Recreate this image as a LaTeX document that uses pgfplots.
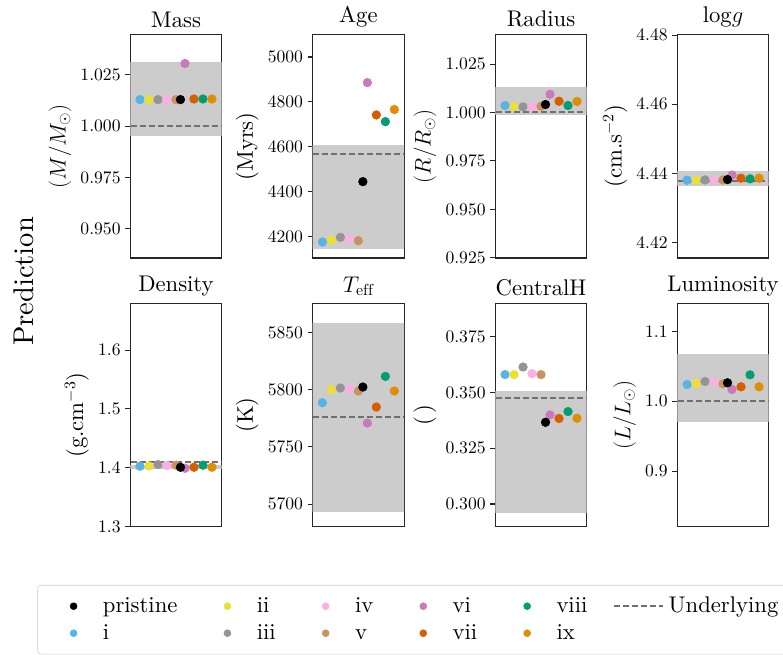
\RequirePackage{fix-cm}
\documentclass[border=0pt]{standalone}
\usepackage{fontspec}
\setmainfont{lmroman10-regular.otf}[ItalicFont=lmroman10-italic.otf, BoldFont=lmroman10-bold.otf]
\usepackage{pgfplots}
\usepackage{pgfplotstable}
\pgfplotsset{compat=1.18}

% palette
\definecolor{cI}{HTML}{56B4E9}
\definecolor{cII}{HTML}{ECE133}
\definecolor{cIII}{HTML}{949494}
\definecolor{cIV}{HTML}{FBAFE4}
\definecolor{cV}{HTML}{CA9161}
\definecolor{cVI}{HTML}{CC78BC}
\definecolor{cVII}{HTML}{D55E00}
\definecolor{cVIII}{HTML}{029E73}
\definecolor{cIX}{HTML}{DE8F05}
\definecolor{bandgray}{HTML}{CCCCCC}
\definecolor{undergray}{HTML}{707070}
\definecolor{framegray}{HTML}{262626}

\newcommand{\tickfont}{\fontsize{13.2}{15.5}\selectfont}
\newcommand{\labfont}{\fontsize{17}{20}\selectfont}

\tikzset{underline/.style={undergray, line width=1.5pt, dash pattern=on 4.5pt off 2.25pt}}

\pgfplotsset{
  panel/.style={
    scale only axis, width=68.55pt, height=167.4pt,
    anchor=south west,
    xmin=-1.08, xmax=9.08, xtick=\empty,
    ytick pos=left, tick align=outside, major tick length=3.75pt,
    axis line style={framegray, line width=0.8pt},
    every tick/.style={framegray, line width=0.8pt},
    title style={font=\labfont, yshift=-4pt},
    ylabel style={font=\labfont},
    yticklabel style={font=\tickfont},
    /pgf/number format/assume math mode=true,
    /pgf/number format/set thousands separator={},
    scaled y ticks=false,
  },
  dec/.style={yticklabel style={/pgf/number format/.cd, fixed, fixed zerofill, precision=#1}},
  pts/.style={
    scatter, only marks, scatter src=explicit symbolic,
    scatter/classes={
      p={mark=*, mark size=3.25pt, draw=black, fill=black},
      i={mark=*, mark size=3.25pt, draw=cI, fill=cI},
      ii={mark=*, mark size=3.25pt, draw=cII, fill=cII},
      iii={mark=*, mark size=3.25pt, draw=cIII, fill=cIII},
      iv={mark=*, mark size=3.25pt, draw=cIV, fill=cIV},
      v={mark=*, mark size=3.25pt, draw=cV, fill=cV},
      vi={mark=*, mark size=3.25pt, draw=cVI, fill=cVI},
      vii={mark=*, mark size=3.25pt, draw=cVII, fill=cVII},
      viii={mark=*, mark size=3.25pt, draw=cVIII, fill=cVIII},
      ix={mark=*, mark size=3.25pt, draw=cIX, fill=cIX}
    }
  },
}

% one panel: #1 table, #2 band low, #3 band high, #4 underlying value
\newcommand{\panelplots}[4]{%
  \addplot[fill=bandgray, draw=none, forget plot] coordinates {(-2,#2) (11,#2) (11,#3) (-2,#3)} -- cycle;
  \addplot[underline, forget plot] coordinates {(-2,#4) (11,#4)};
  \addplot[pts, forget plot] table[x=x, y=y, meta=c] {#1};
}

% predictions: x position, value, class
\pgfplotstableread{
x   y      c
0   1.0129 i
1   1.0129 ii
2   1.0129 iii
3   1.0129 iv
4   1.0129 v
5   1.0305 vi
6   1.0132 vii
7   1.0132 viii
8   1.0132 ix
4.5 1.0129 p
}\massdata
\pgfplotstableread{
x   y    c
0   4176 i
1   4185 ii
2   4197 iii
3   4190 iv
4   4182 v
5   4886 vi
6   4742 vii
7   4712 viii
8   4766 ix
4.5 4445 p
}\agedata
\pgfplotstableread{
x   y      c
0   1.0036 i
1   1.0031 ii
2   1.0029 iii
3   1.0029 iv
4   1.0032 v
5   1.0094 vi
6   1.0058 vii
7   1.0036 viii
8   1.0057 ix
4.5 1.0041 p
}\radiusdata
\pgfplotstableread{
x   y      c
0   4.4380 i
1   4.4380 ii
2   4.4381 iii
3   4.4380 iv
4   4.4381 v
5   4.4395 vi
6   4.4386 vii
7   4.4384 viii
8   4.4386 ix
4.5 4.4382 p
}\loggdata
\pgfplotstableread{
x   y      c
0   1.4027 i
1   1.4030 ii
2   1.4056 iii
3   1.4040 iv
4   1.4045 v
5   1.3993 vi
6   1.4010 vii
7   1.4045 viii
8   1.4010 ix
4.5 1.4010 p
}\densitydata
\pgfplotstableread{
x   y      c
0   5788.6 i
1   5800.0 ii
2   5801.4 iii
3   5800.8 iv
4   5798.8 v
5   5770.8 vi
6   5784.8 vii
7   5811.6 viii
8   5798.8 ix
4.5 5802.3 p
}\teffdata
\pgfplotstableread{
x   y      c
0   0.3581 i
1   0.3581 ii
2   0.3615 iii
3   0.3585 iv
4   0.3581 v
5   0.3400 vi
6   0.3384 vii
7   0.3415 viii
8   0.3385 ix
4.5 0.3367 p
}\centralhdata
\pgfplotstableread{
x   y      c
0   1.0238 i
1   1.0252 ii
2   1.0281 iii
3   1.0271 iv
4   1.0248 v
5   1.0167 vi
6   1.0205 vii
7   1.0376 viii
8   1.0205 ix
4.5 1.0262 p
}\lumdata

\begin{document}
\begin{tikzpicture}
\useasboundingbox (0,0) rectangle (587.25pt,491.25pt);

\node[rotate=90, font=\fontsize{21.4}{25}\selectfont] at (18pt,280.1pt) {Prediction};

% top row
\begin{axis}[panel, dec=3, at={(97.7pt,297.75pt)}, title={Mass}, ylabel={$(M/M_\odot)$},
  ymin=0.9357, ymax=1.0445, ytick={0.950,0.975,1.000,1.025}]
\panelplots{\massdata}{0.9951}{1.0310}{1.000}
\end{axis}

\begin{axis}[panel, at={(234.5pt,297.75pt)}, title={Age}, ylabel={(Myrs)},
  ymin=4105, ymax=5099, ytick={4200,4400,4600,4800,5000}]
\panelplots{\agedata}{4143.8}{4607.6}{4568.8}
\end{axis}

\begin{axis}[panel, dec=3, at={(371.5pt,297.75pt)}, title={Radius}, ylabel={$(R/R_\odot)$},
  ymin=0.9249, ymax=1.0401, ytick={0.925,0.950,0.975,1.000,1.025}]
\panelplots{\radiusdata}{0.99845}{1.0129}{1.000}
\end{axis}

\begin{axis}[panel, dec=2, at={(508pt,297.75pt)}, title={$\mathrm{log}g$}, ylabel={(cm.s$^{-2}$)},
  ymin=4.4155, ymax=4.4801, ytick={4.42,4.44,4.46,4.48}]
\panelplots{\loggdata}{4.43624}{4.4407}{4.4379}
\end{axis}

% bottom row
\begin{axis}[panel, dec=1, at={(97.7pt,96.2pt)}, title={Density}, ylabel={(g.cm$^{-3}$)},
  ymin=1.3, ymax=1.679, ytick={1.3,1.4,1.5,1.6},
  legend columns=6,
  legend cell align=left,
  legend style={
    at={(-1.0175,-0.261)}, anchor=north west,
    draw=black!20, rounded corners=2.5pt, fill=white,
    font=\labfont,
    inner xsep=8.8pt, inner ysep=5.6pt,
    nodes={inner xsep=0pt, inner ysep=0pt, text height=14.5pt, text depth=5.75pt},
    /tikz/every odd column/.style={column sep=3.75pt},
    /tikz/every even column/.style={column sep=19.25pt},
  },
  legend image code/.code={%
    \path[draw=none, fill=none] (0pt,-3pt) rectangle (36.5pt,3pt);
    \draw[#1, mark size=2.6pt] plot coordinates {(18.25pt,0pt)};}
]
\panelplots{\densitydata}{1.3988}{1.4044}{1.4102}
% legend entries, row by row
\addlegendimage{only marks, mark=*, draw=black, fill=black}
\addlegendentry{pristine}
\addlegendimage{only marks, mark=*, draw=cII, fill=cII}
\addlegendentry{ii}
\addlegendimage{only marks, mark=*, draw=cIV, fill=cIV}
\addlegendentry{iv}
\addlegendimage{only marks, mark=*, draw=cVI, fill=cVI}
\addlegendentry{vi}
\addlegendimage{only marks, mark=*, draw=cVIII, fill=cVIII}
\addlegendentry{viii}
\addlegendimage{legend image code/.code={\draw[underline] (0pt,0pt) -- (36.5pt,0pt);}}
\addlegendentry{Underlying}
\addlegendimage{only marks, mark=*, draw=cI, fill=cI}
\addlegendentry{i}
\addlegendimage{only marks, mark=*, draw=cIII, fill=cIII}
\addlegendentry{iii}
\addlegendimage{only marks, mark=*, draw=cV, fill=cV}
\addlegendentry{v}
\addlegendimage{only marks, mark=*, draw=cVII, fill=cVII}
\addlegendentry{vii}
\addlegendimage{only marks, mark=*, draw=cIX, fill=cIX}
\addlegendentry{ix}
\end{axis}

\begin{axis}[panel, at={(234.5pt,96.2pt)}, title={$T_{\mathrm{eff}}$}, ylabel={(K)},
  ymin=5680.2, ymax=5875.3, ytick={5700,5750,5800,5850}]
\panelplots{\teffdata}{5692.7}{5858.7}{5776}
\end{axis}

\begin{axis}[panel, dec=3, at={(371.5pt,96.2pt)}, title={CentralH}, ylabel={(\,)},
  ymin=0.2898, ymax=0.390, ytick={0.300,0.325,0.350,0.375}]
\panelplots{\centralhdata}{0.2958}{0.3507}{0.3478}
\end{axis}

\begin{axis}[panel, dec=1, at={(508pt,96.2pt)}, title={Luminosity}, ylabel={$(L/L_\odot)$},
  ymin=0.8204, ymax=1.1396, ytick={0.9,1.0,1.1}]
\panelplots{\lumdata}{0.9704}{1.0667}{1.000}
\end{axis}
\end{tikzpicture}
\end{document}
